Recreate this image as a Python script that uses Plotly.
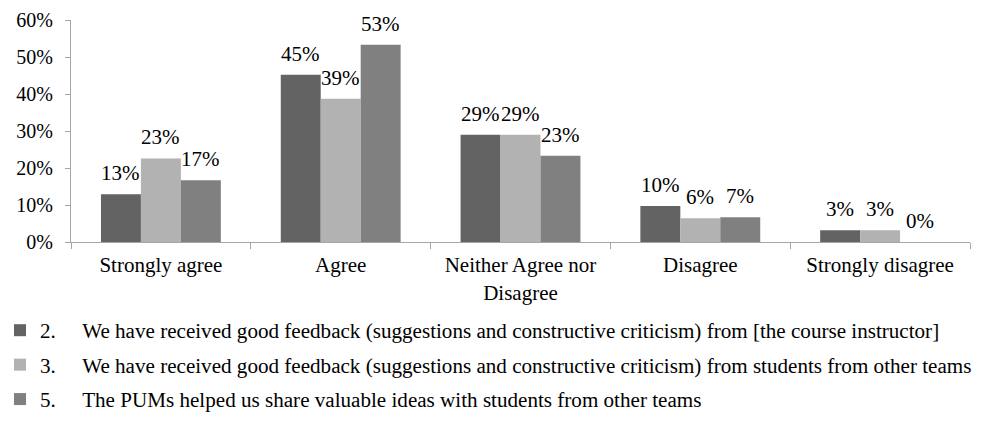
import plotly.graph_objects as go

categories = ["Strongly agree", "Agree", "Neither Agree nor<br>Disagree", "Disagree", "Strongly disagree"]
series_names = [
    "2.\u00a0\u00a0\u00a0\u00a0\u00a0We have received good feedback (suggestions and constructive criticism) from [the course instructor]",
    "3.\u00a0\u00a0\u00a0\u00a0\u00a0We have received good feedback (suggestions and constructive criticism) from students from other teams",
    "5.\u00a0\u00a0\u00a0\u00a0\u00a0The PUMs helped us share valuable ideas with students from other teams",
]
instructor = [0.129, 0.452, 0.290, 0.097, 0.032]
other_teams = [0.226, 0.387, 0.290, 0.0645, 0.032]
pums = [0.167, 0.533, 0.233, 0.067, 0.0]
colors = ["#636363", "#b2b2b2", "#808080"]

FONT = "Liberation Serif"
series_values = [instructor, other_teams, pums]

fig = go.Figure()
for i, (name, vals) in enumerate(zip(series_names, series_values)):
    fig.add_trace(go.Bar(
        x=categories, y=vals, name=name,
        marker=dict(color=colors[i], line=dict(width=0)),
        legendgroup=f"g{i}",
    ))

# data labels, placed above each bar (Excel style, a bit above the bar top)
BAR_PX = 40  # pixel width of each bar in a group
for i, vals in enumerate(series_values):
    for cat, v in zip(categories, vals):
        fig.add_annotation(
            x=cat, y=v, xref="x", yref="y",
            text=f"{v*100:.0f}%", showarrow=False,
            xshift=(i - 1) * BAR_PX, yshift=7,
            xanchor="center", yanchor="bottom",
            font=dict(family=FONT, size=21, color="#000000"),
        )

fig.update_layout(
    width=983, height=421,
    margin=dict(l=71, r=13, t=20, b=179, autoexpand=False),
    paper_bgcolor="white", plot_bgcolor="white",
    barmode="group", bargap=1/3, bargroupgap=0,
    font=dict(family=FONT, size=20, color="#000000"),
    showlegend=True,
    legend=dict(
        orientation="v", xref="container", yref="container",
        x=0, y=1 - 310/421, xanchor="left", yanchor="top",
        traceorder="grouped", tracegroupgap=4,
        font=dict(family=FONT, size=21.1, color="#000000"),
        bgcolor="rgba(0,0,0,0)",
    ),
)
fig.update_yaxes(
    range=[0, 0.6], dtick=0.1, tickformat=".0%",
    showgrid=False, zeroline=False,
    showline=True, linecolor="#a6a6a6", linewidth=1,
    ticks="outside", ticklen=5, tickcolor="#a6a6a6",
    ticklabelstandoff=8,
    tickfont=dict(family=FONT, size=20),
)
fig.update_xaxes(
    showgrid=False, showline=True, linecolor="#a6a6a6", linewidth=1,
    ticks="outside", ticklen=6, tickcolor="#a6a6a6", tickson="boundaries",
    ticklabelstandoff=4,
    tickfont=dict(family=FONT, size=21), tickangle=0,
)

fig.write_html("out.html")
